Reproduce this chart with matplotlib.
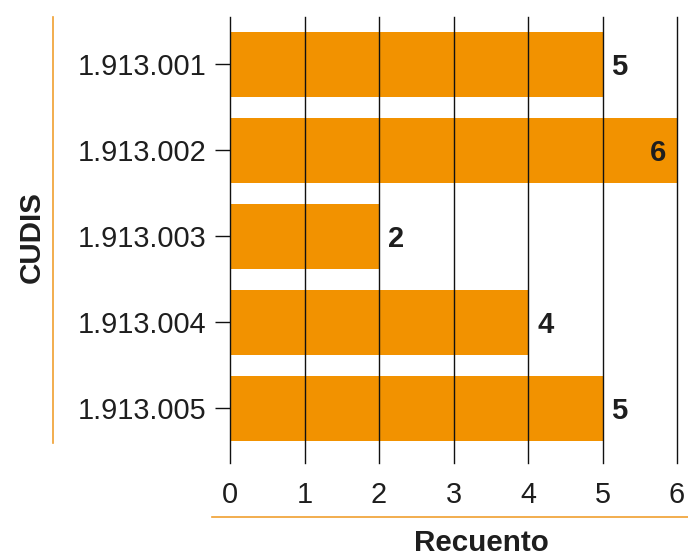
import matplotlib.pyplot as plt
from matplotlib.lines import Line2D

CATEGORIES = ["1.913.001", "1.913.002", "1.913.003", "1.913.004", "1.913.005"]
COUNTS = [5, 6, 2, 4, 5]
X_TICKS = [0, 1, 2, 3, 4, 5, 6]

COLOR_BAR = "#f29200"
COLOR_RULE = "#f0a030"
COLOR_TEXT = "#1e1e1e"

plt.rcParams["font.family"] = ["Liberation Sans", "DejaVu Sans"]


def main():
    fig = plt.figure(figsize=(6.88, 5.58), dpi=100, facecolor="white")
    ax = fig.add_axes([230 / 688, 1 - 463 / 558, 447 / 688, 446 / 558])

    ypos = list(range(len(CATEGORIES)))
    ax.barh(ypos, COUNTS, height=0.756, color=COLOR_BAR, zorder=1)

    ax.set_xlim(0, 6)
    ax.set_ylim(4.634, -0.552)

    for x in X_TICKS:
        ax.axvline(x, color="#111111", linewidth=1, zorder=2, clip_on=False)

    for y, v in zip(ypos, COUNTS):
        if v >= 6:
            ax.annotate(str(v), (v, y), xytext=(-8, 0), textcoords="offset points",
                        ha="right", va="center_baseline", fontsize=21,
                        fontweight="bold", color=COLOR_TEXT, zorder=3)
        else:
            ax.annotate(str(v), (v, y), xytext=(6.5, 0), textcoords="offset points",
                        ha="left", va="center_baseline", fontsize=21,
                        fontweight="bold", color=COLOR_TEXT, zorder=3)

    ax.set_yticks(ypos)
    ax.set_yticklabels(CATEGORIES)
    ax.set_xticks(X_TICKS)
    ax.tick_params(axis="y", length=11, width=1, color="#111111", pad=6,
                   labelsize=20.8, labelcolor=COLOR_TEXT)
    ax.tick_params(axis="x", length=0, pad=13, labelsize=20.8, labelcolor=COLOR_TEXT)

    for spine in ax.spines.values():
        spine.set_visible(False)

    # detached orange rules
    fig.add_artist(Line2D([53 / 688, 53 / 688], [1 - 443 / 558, 1 - 17 / 558],
                          color=COLOR_RULE, linewidth=1.2, transform=fig.transFigure))
    fig.add_artist(Line2D([212 / 688, 1.0], [1 - 517 / 558, 1 - 517 / 558],
                          color=COLOR_RULE, linewidth=1.2, transform=fig.transFigure))

    fig.text(32 / 688, 1 - 237 / 558, "CUDIS", rotation=90, ha="center", va="center",
             fontsize=21.3, fontweight="bold", color=COLOR_TEXT)
    fig.text(481 / 688, 1 - 543 / 558, "Recuento", ha="center", va="center",
             fontsize=21.3, fontweight="bold", color=COLOR_TEXT)

    fig.savefig("out.png", dpi=100)


if __name__ == "__main__":
    main()
